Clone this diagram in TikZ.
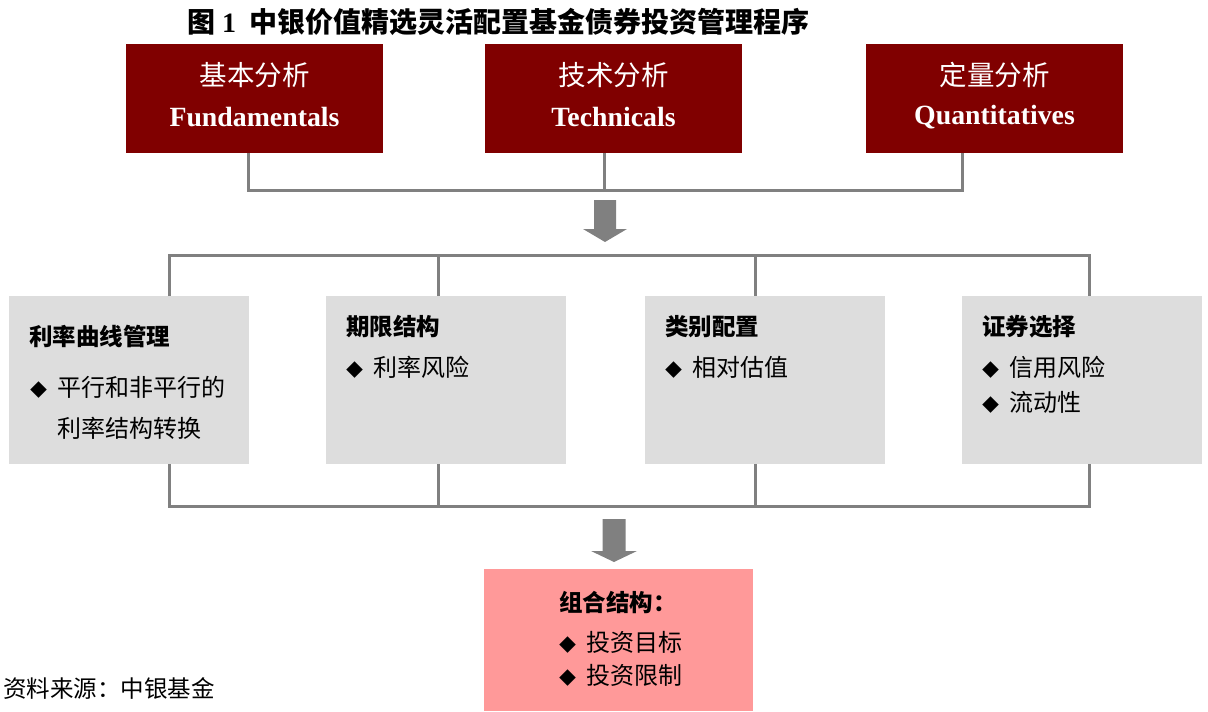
\documentclass[tikz,border=0pt]{standalone}
\usepackage{fontspec}
\setmainfont{Liberation Serif}
\newfontfamily\cjk{Noto Sans CJK SC}
\definecolor{darkred}{HTML}{800000}
\definecolor{boxgray}{HTML}{DDDDDD}
\definecolor{linegray}{HTML}{808080}
\definecolor{pinkbox}{HTML}{FF9999}
\newcommand{\bul}{\makebox[27pt][l]{\fontsize{17}{17}\selectfont\cjk ◆}}
\begin{document}
\begin{tikzpicture}[x=1pt,y=-1pt,
  topbox/.style={fill=darkred, draw=none, minimum width=257pt, minimum height=109pt, anchor=north west, inner sep=0pt},
  topcn/.style={text=white, inner sep=0pt, font=\fontsize{27.5}{27.5}\selectfont\cjk},
  topen/.style={text=white, inner sep=0pt, font=\fontsize{27.8}{27.8}\selectfont\bfseries},
  graybox/.style={fill=boxgray, draw=none, minimum width=240pt, minimum height=168pt, anchor=north west, inner sep=0pt},
  pinkbx/.style={fill=pinkbox, draw=none, minimum width=269pt, minimum height=142pt, anchor=north west, inner sep=0pt},
  head/.style={anchor=west, inner sep=0pt, font=\fontsize{23.5}{23.5}\selectfont\cjk\bfseries},
  body/.style={anchor=west, inner sep=0pt, font=\fontsize{24}{24}\selectfont\cjk},
  conn/.style={draw=linegray, line width=3pt},
  blockarrow/.style={fill=linegray, draw=none}
]
\useasboundingbox (0,0) rectangle (1208,712);

% title
\node[anchor=west, inner sep=0pt, font=\fontsize{28}{28}\selectfont\bfseries] (title) at (187,22)
  {{\cjk 图} 1\hspace{13pt}{\cjk 中银价值精选灵活配置基金债券投资管理程序}};

% top boxes
\node[topbox] (fund) at (126,44) {};
\node[topbox] (tech) at (485,44) {};
\node[topbox] (quant) at (866,44) {};
\node[topcn] (fundcn) at (254.5,75) {基本分析};
\node[topen] (funden) at (254.5,117) {Fundamentals};
\node[topcn] (techcn) at (613.5,75) {技术分析};
\node[topen] (techen) at (613.5,117) {Technicals};
\node[topcn] (quantcn) at (994.5,75) {定量分析};
\node[topen] (quanten) at (994.5,117) {Quantitatives};

% top bus
\coordinate (busL) at (248,190);
\coordinate (busM) at (604,190);
\coordinate (busR) at (962,190);
\draw[conn] (fund.south -| busL) -- (busL) -- (busR) -- (quant.south -| busR);
\draw[conn] (tech.south -| busM) -- (busM);

% arrow 1
\coordinate (arr1) at (605,200);
\fill[blockarrow] (arr1) ++(-11,0) -- ++(22,0) -- ++(0,29) -- ++(11,0) -- ++(-22,13) -- ++(-22,-13) -- ++(11,0) -- cycle;

% gray boxes
\node[graybox] (rate) at (9,296) {};
\node[graybox] (term) at (326,296) {};
\node[graybox] (sector) at (645,296) {};
\node[graybox] (secsel) at (962,296) {};

% middle bus
\coordinate (m1) at (169,255);
\coordinate (m2) at (438,255);
\coordinate (m3) at (755,255);
\coordinate (m4) at (1089,255);
\draw[conn] (rate.north -| m1) -- (m1) -- (m4) -- (secsel.north -| m4);
\draw[conn] (m2) -- (term.north -| m2);
\draw[conn] (m3) -- (sector.north -| m3);

% bottom bus
\coordinate (b1) at (169,506);
\coordinate (b2) at (438,506);
\coordinate (b3) at (755,506);
\coordinate (b4) at (1089,506);
\draw[conn] (rate.south -| b1) -- (b1) -- (b4) -- (secsel.south -| b4);
\draw[conn] (term.south -| b2) -- (b2);
\draw[conn] (sector.south -| b3) -- (b3);

% gray box texts
\node[head] (rateh) at (29,336) {利率曲线管理};
\node[body] (rate1) at (30,387) {\bul 平行和非平行的};
\node[body] (rate2) at (57,428) {利率结构转换};

\node[head] (termh) at (346,327) {期限结构};
\node[body] (term1) at (346,367) {\bul 利率风险};

\node[head] (sectorh) at (665,327) {类别配置};
\node[body] (sector1) at (665,367) {\bul 相对估值};

\node[head] (secselh) at (982,327) {证券选择};
\node[body] (secsel1) at (982,367) {\bul 信用风险};
\node[body] (secsel2) at (982,402) {\bul 流动性};

% arrow 2
\coordinate (arr2) at (614,519);
\fill[blockarrow] (arr2) ++(-11.5,0) -- ++(23,0) -- ++(0,32) -- ++(11.5,0) -- ++(-23,11) -- ++(-23,-11) -- ++(11.5,0) -- cycle;

% pink box
\node[pinkbx] (port) at (484,569) {};
\node[head] (porth) at (559,603) {组合结构：};
\node[body] (port1) at (559,642) {\bul 投资目标};
\node[body] (port2) at (559,675) {\bul 投资限制};

% source
\node[anchor=west, inner sep=0pt, font=\fontsize{23.5}{23.5}\selectfont\cjk] (source) at (3,688) {资料来源：中银基金};
\end{tikzpicture}
\end{document}
